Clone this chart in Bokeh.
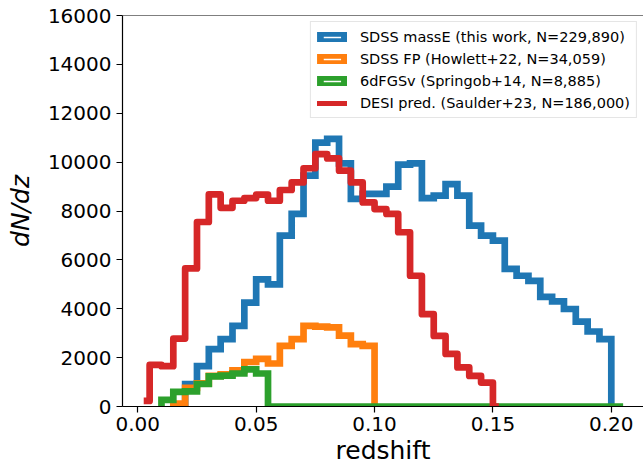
import numpy as np
from bokeh.plotting import figure
from bokeh.models import Range1d, FixedTicker, NumeralTickFormatter, Legend, LegendItem, Span
from bokeh.embed import file_html
from bokeh.resources import INLINE

# ---- data ----
bin_width = 0.005

# SDSS massE (this work) histogram, bins start at 0.02
blue_start = 0.02
blue_counts = [920, 1650, 2350, 2760, 3300, 4250, 5200, 5000, 6990, 7880,
               9450, 10800, 10950, 9950, 8500, 8700, 8700, 9000, 9900, 9950,
               8530, 8630, 9100, 8630, 7400, 6990, 6790, 5630, 5350, 5140,
               4490, 4300, 3990, 3470, 3070, 2760]

# SDSS FP (Howlett+22) histogram, bins start at 0.015
orange_start = 0.015
orange_counts = [120, 760, 950, 1250, 1320, 1480, 1820, 1950, 1760, 2480,
                 2760, 3300, 3270, 3240, 2900, 2550, 2480]

# 6dFGSv (Springob+14) histogram, bins start at 0.01
green_start = 0.01
green_counts = [270, 600, 620, 920, 1230, 1260, 1350, 1520, 1350] + [0] * 30

# DESI prediction (Saulder+23), step curve at bin centres
red_z0 = 0.0025
red_counts = [230, 1700, 1650, 2780, 5650, 7550, 8680, 8130, 8420, 8530,
              8670, 8420, 8860, 9170, 9750, 10330, 10150, 9650, 9170, 8350,
              8080, 7880, 7130, 5350, 3780, 2890, 2150, 1600, 1250, 980, 0]

labels = ["SDSS massE (this work, N=229,890)",
          "SDSS FP (Howlett+22, N=34,059)",
          "6dFGSv (Springob+14, N=8,885)",
          "DESI pred. (Saulder+23, N=186,000)"]
colors = ["#1f77b4", "#ff7f0e", "#2ca02c", "#d62728"]

x_ticks = [0.0, 0.05, 0.10, 0.15, 0.20]
y_ticks = [0, 2000, 4000, 6000, 8000, 10000, 12000, 14000, 16000]


def hist_path(start, counts):
    n = len(counts)
    edges = start + bin_width * np.arange(n + 1)
    xs = np.repeat(edges, 2)
    ys = np.concatenate([[0], np.repeat(counts, 2), [0]])
    return xs, ys


FONT = "DejaVu Sans"
LW = 6.7

p = figure(width=643, height=471, output_backend="svg", toolbar_location=None,
           x_range=Range1d(-0.00646, 0.2136), y_range=Range1d(0, 16000),
           min_border_left=122, min_border_right=0, min_border_top=15,
           min_border_bottom=65)
p.outline_line_color = None
p.xgrid.visible = False
p.ygrid.visible = False
p.background_fill_color = "white"
p.border_fill_color = "white"

for ax in (p.xaxis[0], p.yaxis[0]):
    ax.axis_line_color = "black"
    ax.axis_line_width = 1.2
    ax.major_tick_line_color = "black"
    ax.major_tick_line_width = 1.2
    ax.major_tick_out = 6
    ax.major_tick_in = 0
    ax.minor_tick_line_color = None
    ax.major_label_text_font = FONT
    ax.major_label_text_font_size = "20px"
    ax.major_label_text_color = "black"
    ax.axis_label_text_font = FONT
    ax.axis_label_text_font_size = "25px"
    ax.axis_label_text_color = "black"

p.xaxis[0].ticker = FixedTicker(ticks=x_ticks)
p.xaxis[0].formatter = NumeralTickFormatter(format="0.00")
p.xaxis[0].axis_label = "redshift"
p.xaxis[0].axis_label_text_font_style = "normal"
p.xaxis[0].major_label_standoff = 4
p.xaxis[0].axis_label_standoff = 2

p.yaxis[0].ticker = FixedTicker(ticks=y_ticks)
p.yaxis[0].axis_label = "dN/dz"
p.yaxis[0].axis_label_text_font_style = "italic"
p.yaxis[0].major_label_standoff = 5
p.yaxis[0].axis_label_standoff = 10

# histograms (drawn in the same order as the reference)
for start, counts, c in [(blue_start, blue_counts, colors[0]),
                         (orange_start, orange_counts, colors[1]),
                         (green_start, green_counts, colors[2])]:
    xs, ys = hist_path(start, counts)
    p.line(xs, ys, line_color=c, line_width=LW, line_join="miter", line_cap="butt")

red_z = red_z0 + bin_width * np.arange(len(red_counts))
p.step(red_z, red_counts, mode="center", line_color=colors[3], line_width=LW,
       line_join="round", line_cap="butt")

# top spine
p.add_layout(Span(location=16000, dimension="width", line_color="black", line_width=1.2))

# legend proxies (placed below the visible y range so only the legend shows them)
items = []
for lab, c in zip(labels[:3], colors[:3]):
    r = p.quad(left=[0.0], right=[0.01], top=[-5000], bottom=[-6000], fill_color="white",
               line_color=c, line_width=LW, line_join="miter")
    items.append(LegendItem(label=lab, renderers=[r]))
rl = p.line([0.0, 0.01], [-5000, -5000], line_color=colors[3], line_width=5, line_cap="square")
items.append(LegendItem(label=labels[3], renderers=[rl]))

legend = Legend(items=items, location="top_right", margin=6, padding=6,
                spacing=5, glyph_width=30, glyph_height=10, label_standoff=13,
                label_height=17, label_text_font=FONT, label_text_font_size="14.5px",
                label_text_color="black", border_line_color="#cccccc",
                border_line_width=1, background_fill_color="white",
                background_fill_alpha=0.8)
p.add_layout(legend)

open("out.html", "w").write(file_html(p, INLINE))
